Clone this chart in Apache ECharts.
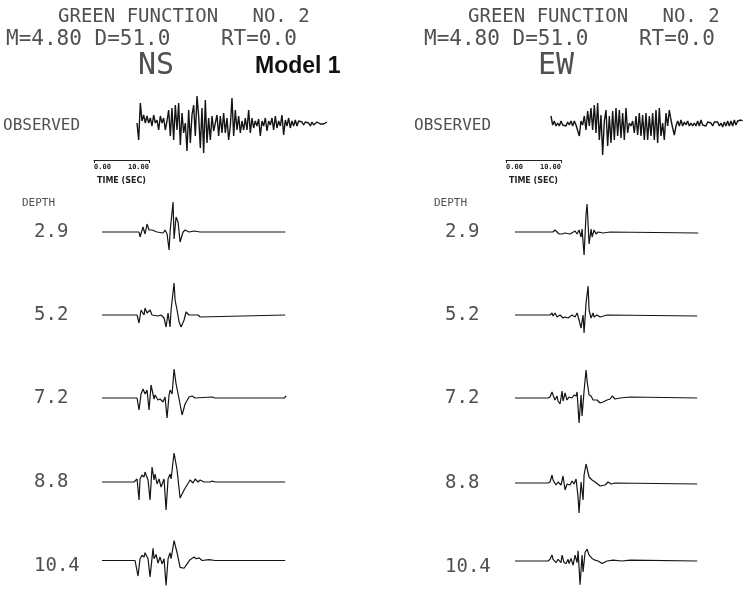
<!DOCTYPE html>
<html><head><meta charset="utf-8">
<script src="https://cdn.jsdelivr.net/npm/echarts@6/dist/echarts.min.js"></script>
<style>html,body{margin:0;padding:0;background:#fff}#c{width:747px;height:595px}</style>
</head><body><div id="c"></div>
<script>
// ---- data (time in sample ticks, amplitude in relative units) ----
const depths = ['2.9', '5.2', '7.2', '8.8', '10.4'];
const scaleTicks = [0, 10];           // seconds shown on the time scale bar
const SYN_DT = 0.182;                 // seconds per synthetic tick
const OBS_DT = 0.303;                 // seconds per observed sample

const obsNS = [0,-17,20,2,8,0,7,0,5,-3,8,0,3,-7,7,0,5,-7,2,13,-13,15,-17,18,-7,20,-22,10,-10,0,-28,13,-20,8,18,-13,27,7,-25,15,-30,23,-20,5,-17,7,-8,0,8,-13,7,-10,10,-10,5,-17,-3,25,-13,13,-7,7,-10,2,-7,5,-7,13,-10,5,-5,2,-3,4,-13,2,-3,5,-8,2,-2,5,-7,7,-5,2,-3,8,-12,3,-3,5,-5,2,-3,3,-3,2,0,1,-2,1,-1,0,-3,1,-2,0,1,0,-1,1,-1,0,1];
const obsEW = [7,-2,2,-3,0,-3,2,-2,0,-3,1,-2,2,-3,2,-2,0,-13,2,-2,7,-7,12,-3,15,-7,18,-10,20,-17,8,-32,2,13,-23,7,-20,12,-17,15,-13,13,-15,10,-17,15,-10,0,-3,2,-10,7,-12,10,-13,8,-17,10,-17,7,-13,10,-17,13,-20,15,-13,0,-17,10,-3,13,3,-5,-12,-3,2,-3,3,-3,1,-2,2,-3,0,-3,0,-3,2,-3,3,-2,0,-3,1,-1,0,-3,1,-1,1,-3,0,-4,1,-3,2,-3,2,-3,3,-2,2,0,3,2];

const ns29 = [[0,0],[37,0],[38,-5],[41,5],[43,-2],[45,8],[47,2],[50,2],[55,0],[61,-1],[63,2],[65,-2],[67,-18],[68,0],[71,30],[72,-7],[74,15],[76,10],[78,-10],[81,0],[83,2],[87,0],[92,1],[98,0],[183,0]];
const ns52 = [[0,0],[35,0],[37,-8],[39,5],[42,0],[43,7],[45,2],[48,5],[50,0],[56,-1],[59,0],[62,-3],[64,-12],[66,2],[68,-12],[69,5],[72,32],[73,15],[75,5],[77,-7],[79,-12],[82,-5],[84,3],[87,0],[96,0],[98,-2],[99,0],[183,0]];
const ns72 = [[0,0],[35,0],[37,-12],[39,4],[41,9],[43,4],[45,8],[47,-12],[49,13],[52,-1],[53,3],[56,-2],[58,-1],[61,-4],[63,1],[65,-20],[67,3],[68,8],[70,4],[72,29],[74,14],[77,-1],[80,-17],[83,-6],[87,1],[90,2],[93,0],[110,1],[113,0],[182,0],[184,2]];
const ns88 = [[0,0],[32,0],[33,2],[35,3],[37,-18],[38,3],[40,7],[42,5],[43,10],[46,2],[48,-18],[50,15],[52,2],[53,8],[55,-2],[57,3],[59,-5],[62,3],[64,-28],[66,3],[68,8],[69,3],[72,29],[75,12],[78,-16],[82,-8],[85,-3],[88,2],[91,-1],[93,3],[96,0],[98,2],[102,0],[108,0],[110,1],[113,0],[183,0]];
const ns104 = [[0,0],[33,0],[34,2],[36,-18],[38,2],[40,6],[42,4],[43,9],[46,2],[48,-19],[51,14],[52,2],[54,7],[56,-3],[58,4],[60,-4],[62,2],[64,-29],[66,2],[68,9],[69,2],[72,23],[75,9],[78,-8],[82,-9],[85,-4],[88,1],[92,4],[94,2],[97,3],[100,0],[107,1],[113,0],[183,0]];

const ew29 = [[0,0],[38,0],[40,2],[42,0],[44,-2],[47,-2],[50,-1],[55,-2],[60,1],[62,-2],[64,2],[66,-5],[67,3],[69,-23],[71,18],[72,28],[74,-12],[76,3],[77,-5],[79,2],[81,-2],[83,0],[88,-1],[95,0],[183,-1]];
const ew52 = [[0,0],[35,0],[37,2],[38,-1],[40,2],[42,-2],[45,0],[48,-3],[50,-2],[53,-3],[57,0],[60,-2],[62,2],[64,-5],[66,-13],[68,0],[69,-18],[71,12],[73,29],[74,5],[76,-3],[78,2],[79,-2],[82,0],[85,-2],[92,0],[182,-1]];
const ew72 = [[0,0],[33,0],[35,1],[37,6],[38,3],[40,-2],[42,2],[43,-3],[45,-6],[47,7],[48,-3],[50,5],[52,-2],[54,1],[57,0],[59,3],[61,2],[62,6],[64,-25],[66,3],[67,-18],[69,7],[71,28],[72,17],[74,3],[76,2],[78,-2],[82,-2],[85,-5],[88,-4],[92,-2],[95,-1],[97,2],[100,-1],[105,0],[115,1],[182,0]];
const ew88 = [[0,0],[33,0],[35,1],[37,8],[38,3],[41,-2],[43,1],[46,-2],[48,7],[50,-7],[52,-1],[55,-2],[57,2],[59,-1],[61,4],[63,-14],[64,-30],[66,1],[68,-17],[69,8],[71,19],[72,21],[74,6],[77,3],[80,1],[85,-3],[90,-2],[93,1],[96,-1],[100,0],[182,-1]];
const ew104 = [[0,0],[33,0],[35,2],[37,7],[38,2],[41,-2],[43,2],[46,-2],[47,7],[49,-2],[51,-3],[53,2],[54,-3],[56,3],[58,-5],[60,7],[62,-2],[63,12],[65,-28],[67,7],[68,-13],[70,10],[72,14],[74,7],[77,3],[80,1],[83,0],[87,-3],[92,0],[98,1],[107,0],[115,1],[182,0]];

const nsSyn = [ns29, ns52, ns72, ns88, ns104];
const ewSyn = [ew29, ew52, ew72, ew88, ew104];

// ---- layout ----
const PX_PER_SEC = 5.5;
const AMP = 40;
const panels = [
  {obs: obsNS, syn: nsSyn, obsLeft: 137, synLeft: 102, barLeft: 94, baselines: [232,315,398,482,566],
   title: 58, line2: 6, comp: 'NS', compX: 156, obsLabel: 3, depthX: 22, labX: 34},
  {obs: obsEW, syn: ewSyn, obsLeft: 551, synLeft: 515, barLeft: 506, baselines: [232,315,398,483,567],
   title: 468, line2: 424, comp: 'EW', compX: 556, obsLabel: 414, depthX: 434, labX: 445}
];

const grids = [], xAxes = [], yAxes = [], series = [], graphics = [];
function addTrace(left, baseline, data, lw) {
  const i = grids.length;
  const tEnd = data[data.length - 1][0];
  const width = tEnd * PX_PER_SEC;
  grids.push({left: left, top: baseline - AMP, width: width, height: AMP * 2});
  xAxes.push({gridIndex: i, type: 'value', min: 0, max: tEnd, show: false});
  yAxes.push({gridIndex: i, type: 'value', min: -AMP, max: AMP, show: false});
  series.push({type: 'line', xAxisIndex: i, yAxisIndex: i, data: data, showSymbol: false, silent: true,
    clip: false, lineStyle: {color: '#141414', width: lw}});
}
function addBar(left, top) {
  const i = grids.length;
  grids.push({left: left, top: top - 10, width: (scaleTicks[1] - scaleTicks[0]) * PX_PER_SEC, height: 10});
  xAxes.push({gridIndex: i, type: 'value', min: scaleTicks[0], max: scaleTicks[1], interval: 10,
    axisLine: {show: true, lineStyle: {color: '#222', width: 1}},
    axisTick: {show: true, inside: false, length: 3, lineStyle: {color: '#222'}},
    splitLine: {show: false},
    axisLabel: {margin: 4, formatter: v => v.toFixed(2), fontSize: 7, fontWeight: 'bold', color: '#222',
      fontFamily: 'DejaVu Sans Mono', alignMinLabel: 'left', alignMaxLabel: 'right'},
    name: 'TIME (SEC)', nameLocation: 'middle', nameGap: 17,
    nameTextStyle: {fontSize: 8, fontWeight: 'bold', color: '#222', fontFamily: 'DejaVu Sans'}});
  yAxes.push({gridIndex: i, type: 'value', show: false, min: 0, max: 1});
  series.push({type: 'line', xAxisIndex: i, yAxisIndex: i, data: [], showSymbol: false});
}
const MONO = 'DejaVu Sans Mono';
function txt(text, x, y, size, opts) {
  graphics.push({type: 'text', x: x, y: y, silent: true, style: Object.assign({text: text,
    font: (opts && opts.weight ? opts.weight + ' ' : '') + size + 'px ' + ((opts && opts.family) || MONO),
    fill: (opts && opts.fill) || '#505050', verticalAlign: 'middle', align: (opts && opts.align) || 'left'})});
}

panels.forEach(p => {
  const obsData = p.obs.map((a, k) => [k * OBS_DT, a]);
  addTrace(p.obsLeft, 123, obsData, 1.4);
  p.syn.forEach((tr, k) => addTrace(p.synLeft, p.baselines[k], tr.map(d => [d[0] * SYN_DT, d[1]]), 1.2));
  addBar(p.barLeft, 160);
  txt('GREEN FUNCTION   NO. 2', p.title, 17, 19);
  txt('M=4.80 D=51.0    RT=0.0', p.line2, 40, 21);
  txt(p.comp, p.compX, 66, 30, {align: 'center'});
  txt('OBSERVED', p.obsLabel, 126, 16);
  txt('DEPTH', p.depthX, 203, 11);
  depths.forEach((d, k) => txt(d, p.labX, p.baselines[k], 19));
});
txt('Model 1', 255, 67, 23, {weight: 'bold', family: 'Liberation Sans', fill: '#111'});

const chart = echarts.init(document.getElementById('c'), null, {renderer: 'canvas'});
chart.setOption({animation: false, backgroundColor: '#fff', grid: grids, xAxis: xAxes, yAxis: yAxes,
  series: series, graphic: graphics});
</script></body></html>
